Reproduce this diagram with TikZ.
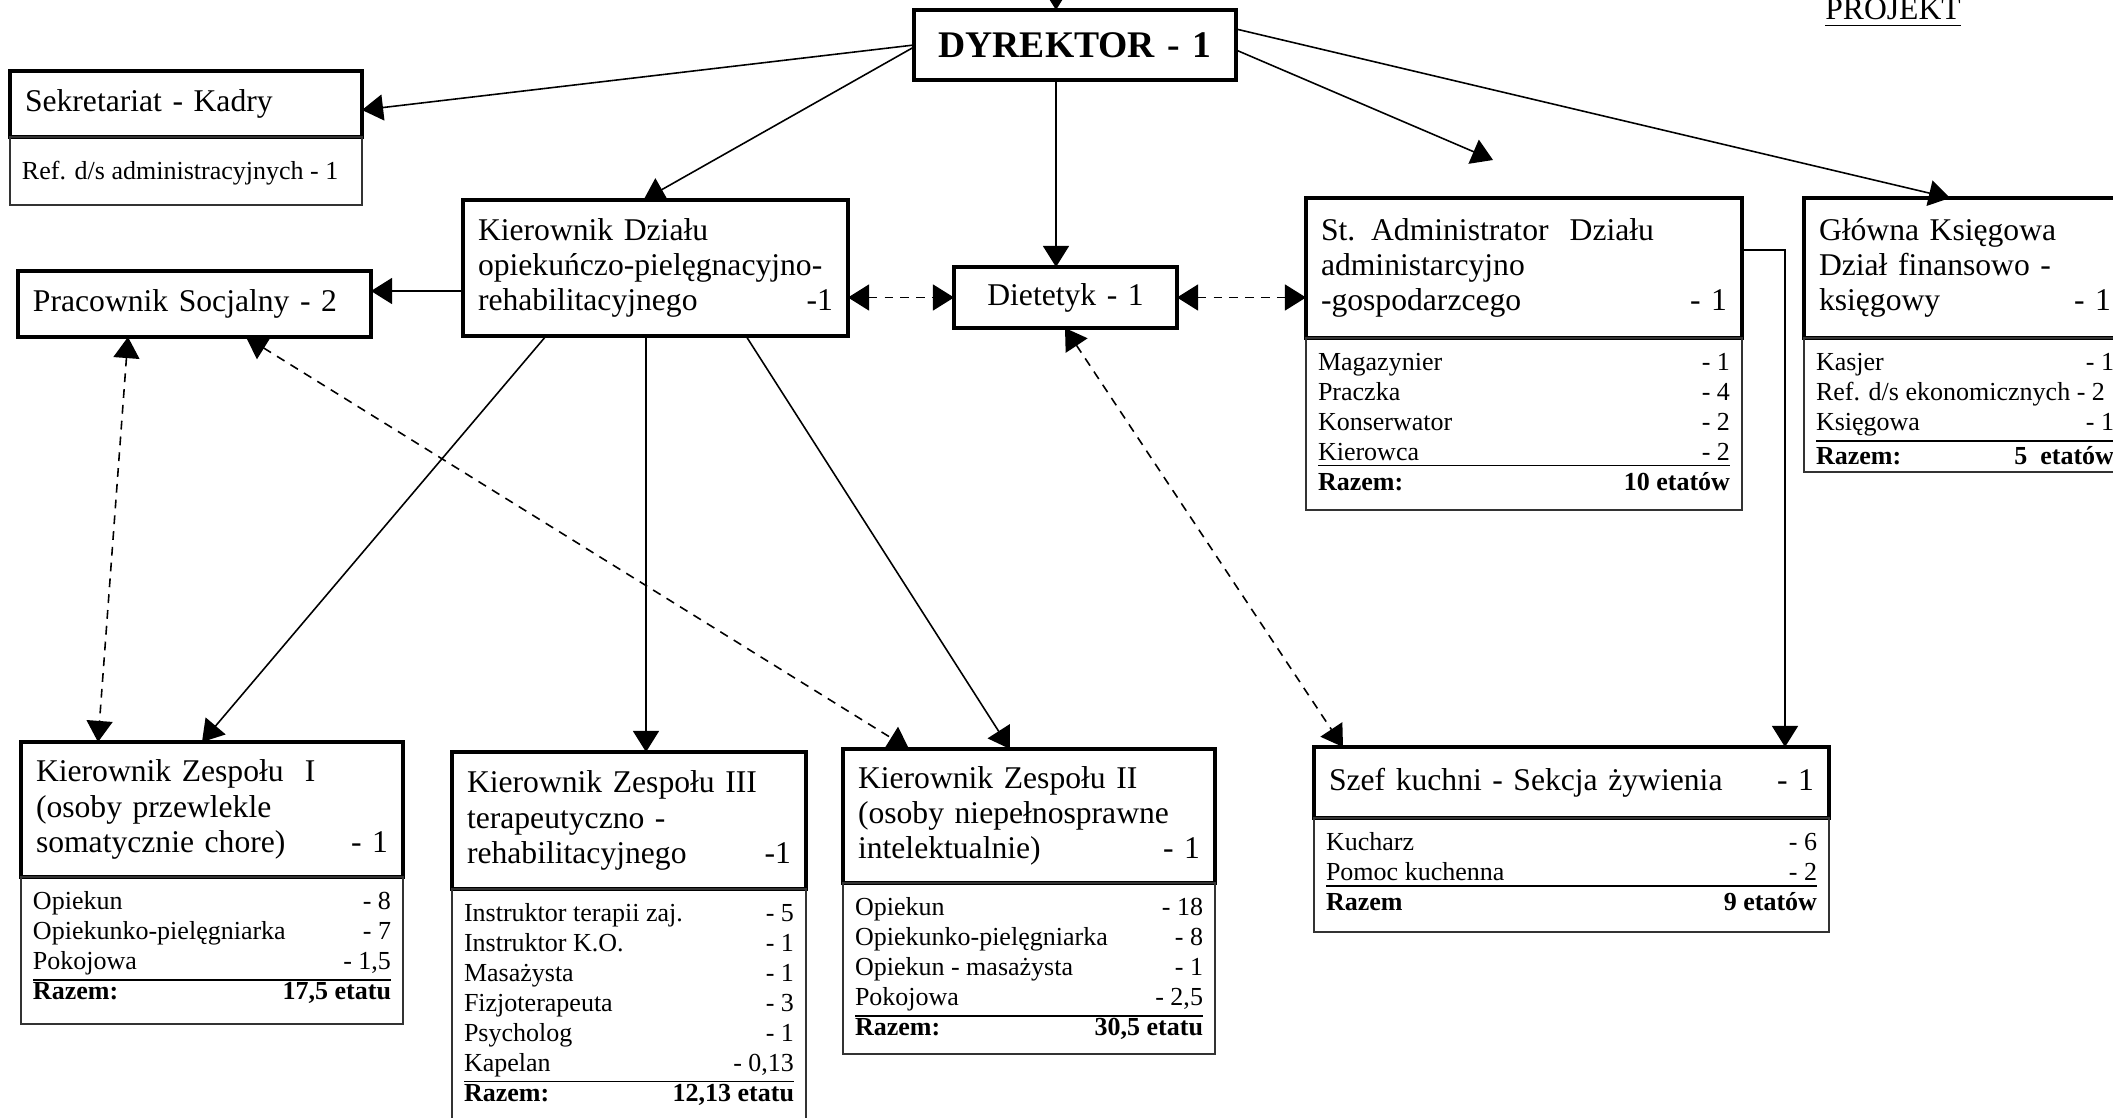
\documentclass[tikz,border=0pt]{standalone}
\usepackage{fontspec}
\setmainfont{Liberation Serif}
\usetikzlibrary{arrows.meta}
\newcommand{\glowny}{\fontsize{9}{10}\selectfont}
\newcommand{\drobny}{\fontsize{7.4}{8.5}\selectfont}
\newcommand{\obsada}[3]{\parbox[c][\dimexpr#2-0.24cm\relax][t]{\dimexpr#1-0.24cm\relax}{\strut#3}}
\newcommand{\podkresl}[2]{\underline{\makebox[\linewidth]{#1\hfill #2}}}

\begin{document}
\begin{tikzpicture}[
    dzial/.style 2 args={draw, line width=1.1pt, outer sep=0pt, anchor=north west, font=\glowny, align=left, inner xsep=0.15cm, text width=#1, minimum height=#2},
    obsada/.style={draw=black!80, line width=0.45pt, outer sep=0pt, anchor=north west, font=\drobny, inner sep=0.12cm},
    tip/.style={-{Triangle[length=6pt,width=7.4pt]}, line width=0.45pt},
    wspolpraca/.style={{Triangle[length=6pt,width=7.4pt]}-{Triangle[length=6pt,width=7.4pt]}, line width=0.45pt, dash pattern=on 2.5pt off 2pt}]
              \useasboundingbox (0,0) rectangle (21.13,-11.17);

              \node[font=\glowny, anchor=base] (projekt) at (18.93,-0.20) {\underline{PROJEKT}};

              \node[dzial={2.92cm}{0.70cm}, align=center, font=\fontsize{10.7}{12}\selectfont\bfseries] (dyr) at (9.14,-0.10) {DYREKTOR - 1};

              \node[dzial={3.22cm}{0.66cm}] (sekr) at (0.10,-0.71) {Sekretariat - Kadry};
              \node[obsada] (sekrO) at (sekr.south west) {\obsada{3.52cm}{0.68cm}{\rule{0pt}{0.3cm}Ref. d/s administracyjnych - 1}};

              \node[dzial={3.23cm}{0.66cm}] (prac) at (0.18,-2.71) {Pracownik Socjalny - 2};

              \node[dzial={3.55cm}{1.36cm}] (kierd) at (4.63,-2.00) {Kierownik Działu\\ opiekuńczo-pielęgnacyjno-\\ rehabilitacyjnego\hfill -1};

              \node[dzial={1.93cm}{0.61cm}, align=center] (diet) at (9.54,-2.67) {Dietetyk - 1};

              \node[dzial={4.06cm}{1.40cm}] (adm) at (13.06,-1.98) {St. Administrator\ \ Działu\\ administarcyjno\\ -gospodarzcego\hfill - 1};
              \node[obsada] (admO) at (adm.south west) {\obsada{4.36cm}{1.72cm}{Magazynier\hfill - 1\\ Praczka\hfill - 4\\ Konserwator\hfill - 2\\ \podkresl{Kierowca}{- 2}\\ \textbf{Razem:\hfill 10 etatów}}};

              \node[dzial={2.92cm}{1.40cm}] (glow) at (18.04,-1.98) {Główna Księgowa\\ Dział finansowo -\\ księgowy\hfill - 1};
              \node[obsada] (glowO) at (glow.south west) {\obsada{3.22cm}{1.34cm}{Kasjer\hfill - 1\\ Ref. d/s ekonomicznych - 2\\ \podkresl{Księgowa}{- 1}\\ \textbf{Razem:\hfill 5\ \ etatów}}};

              \node[dzial={3.52cm}{1.35cm}] (zes1) at (0.21,-7.42) {Kierownik Zespołu\ \ I\\ (osoby przewlekle\\ somatycznie chore)\hfill - 1};
              \node[obsada] (zes1O) at (zes1.south west) {\obsada{3.82cm}{1.47cm}{Opiekun\hfill - 8\\ Opiekunko-pielęgniarka\hfill - 7\\ \podkresl{Pokojowa}{- 1,5}\\ \textbf{Razem:\hfill 17,5 etatu}}};

              \node[dzial={3.24cm}{1.37cm}] (zes3) at (4.52,-7.52) {Kierownik Zespołu III\\ terapeutyczno -\\ rehabilitacyjnego\hfill -1};
              \node[obsada] (zes3O) at (zes3.south west) {\obsada{3.54cm}{2.40cm}{Instruktor terapii zaj.\hfill - 5\\ Instruktor K.O.\hfill - 1\\ Masażysta\hfill - 1\\ Fizjoterapeuta\hfill - 3\\ Psycholog\hfill - 1\\ \podkresl{Kapelan}{- 0,13}\\ \textbf{Razem:\hfill 12,13 etatu}}};

              \node[dzial={3.42cm}{1.34cm}] (zes2) at (8.43,-7.49) {Kierownik Zespołu II\\ (osoby niepełnosprawne\\ intelektualnie)\hfill - 1};
              \node[obsada] (zes2O) at (zes2.south west) {\obsada{3.72cm}{1.71cm}{Opiekun\hfill - 18\\ Opiekunko-pielęgniarka\hfill - 8\\ Opiekun - masażysta\hfill - 1\\ \podkresl{Pokojowa}{- 2,5}\\ \textbf{Razem:\hfill 30,5 etatu}}};

              \node[dzial={4.85cm}{0.71cm}] (szef) at (13.14,-7.47) {Szef kuchni - Sekcja żywienia\hfill - 1};
              \node[obsada] (szefO) at (szef.south west) {\obsada{5.15cm}{1.14cm}{Kucharz\hfill - 6\\ \podkresl{Pomoc kuchenna}{- 2}\\ \textbf{Razem\hfill 9 etatów}}};

              \coordinate (gora) at (10.56,0.20);
              \coordinate (admgrot) at (14.93,-1.60);
              \coordinate (pracgrot) at ([yshift=0.13cm]prac.east);

              \draw[tip] (gora) -- (gora |- dyr.north);
              \draw[tip] (dyr.west) -- ([yshift=-0.06cm]sekr.east);
              \draw[tip] ([yshift=-0.02cm]dyr.west) -- ([xshift=-0.12cm]kierd.north);
              \draw[tip] (gora |- dyr.south) -- (gora |- diet.north);
              \draw[tip] ([yshift=-0.05cm]dyr.east) -- (admgrot);
              \draw[tip] ([yshift=0.16cm]dyr.east) -- ([xshift=1.46cm]glow.north west);
              \draw[tip] (kierd.west |- pracgrot) -- (pracgrot);
              \draw[wspolpraca] (kierd.east |- diet.west) -- (diet.west);
              \draw[wspolpraca] (diet.east) -- (adm.west |- diet.east);
              \draw[tip] ([xshift=0.83cm]kierd.south west) -- ([xshift=1.81cm]zes1.north west);
              \draw[tip] ([xshift=1.83cm]kierd.south west) -- ([xshift=1.83cm]kierd.south west |- zes3.north);
              \draw[tip] ([xshift=2.83cm]kierd.south west) -- ([xshift=1.67cm]zes2.north west);
              \draw[wspolpraca] ([xshift=1.10cm]prac.south west) -- ([xshift=0.77cm]zes1.north west);
              \draw[wspolpraca] ([xshift=2.28cm]prac.south west) -- ([xshift=0.66cm]zes2.north west);
              \draw[wspolpraca] ([xshift=1.11cm]diet.south west) -- ([xshift=0.29cm]szef.north west);
              \draw[tip] ([yshift=0.18cm]adm.east) -| ([xshift=4.71cm]szef.north west);
            \end{tikzpicture}
\end{document}
